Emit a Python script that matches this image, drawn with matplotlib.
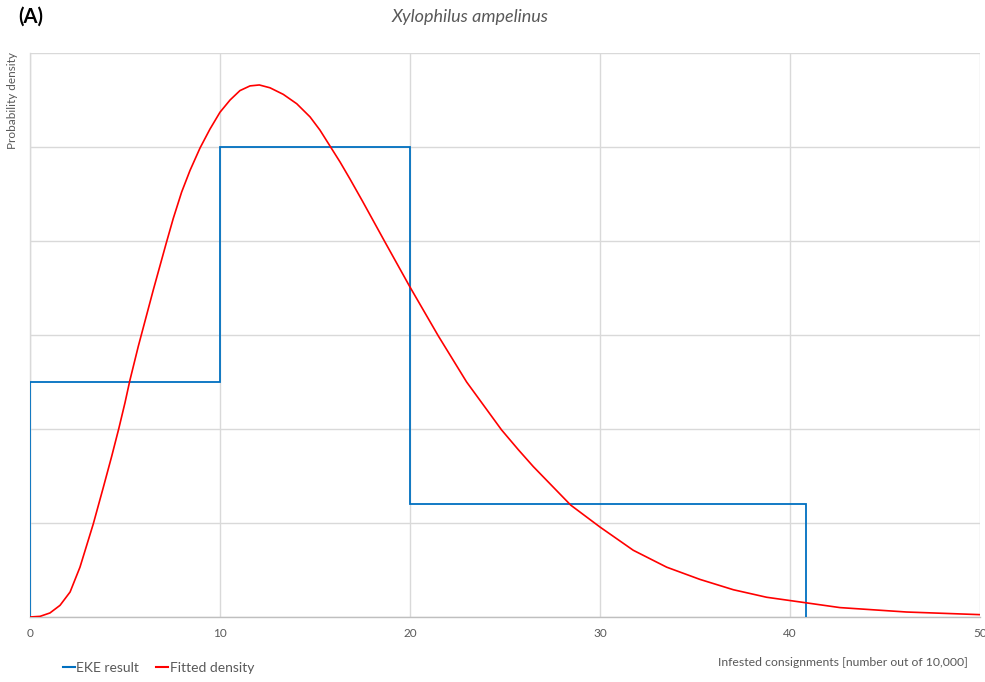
import numpy as np
import matplotlib
matplotlib.use("Agg")
import matplotlib.pyplot as plt

plt.rcParams['font.family'] = ['Lato', 'DejaVu Sans']

# EKE result (histogram-like step density)
eke_edges = [0, 10, 20, 40.83]
eke_density = [0.025, 0.05, 0.012]

# fitted density
fit_x = [0, 0.53, 1.05, 1.58, 2.11, 2.63, 3.33, 3.86, 4.3, 4.68, 5.0, 5.26, 5.7,
         6.49, 7.16, 7.54, 7.98, 8.42, 8.95, 9.47, 10.0, 10.53, 11.05, 11.58, 12.07,
         12.63, 13.33, 14.04, 14.74, 15.26, 15.79, 16.32, 16.84, 17.51, 18.68, 20.0,
         21.49, 22.98, 24.82, 25.7, 26.49, 28.46, 30.0, 31.75, 33.51, 35.26, 37.02,
         38.77, 40.88, 42.63, 46.14, 50.0]
fit_y = [0, 0.00007, 0.00043, 0.00124, 0.00266, 0.0053, 0.0099, 0.0138, 0.0171,
         0.0201, 0.0228, 0.0252, 0.0288, 0.0348, 0.0397, 0.0424, 0.0452, 0.0475,
         0.0499, 0.0519, 0.0537, 0.0550, 0.0560, 0.0565, 0.0566, 0.0563, 0.0556,
         0.0546, 0.0532, 0.0518, 0.0501, 0.0484, 0.0466, 0.0442, 0.0399, 0.0351,
         0.0299, 0.0250, 0.0199, 0.0178, 0.0160, 0.0119, 0.00957, 0.0071, 0.0053,
         0.0040, 0.0029, 0.0021, 0.0015, 0.0010, 0.00053, 0.00025]

x_ticks = [0, 10, 20, 30, 40, 50]

W, H = 985, 682
fig = plt.figure(figsize=(W / 100, H / 100), dpi=100)
ax = fig.add_axes([30 / W, (H - 617) / H, 950 / W, 564 / H])

grid_c = '#d9d9d9'
text_c = '#595959'

ax.stairs(eke_density, eke_edges, baseline=0, color='#0070C0', linewidth=1.3, zorder=3)
ax.plot(fit_x, fit_y, color='#FF0000', linewidth=1.2, zorder=4)

ax.set_xlim(0, 50)
ax.set_ylim(0, 0.06)
ax.set_xticks(x_ticks)
ax.set_yticks(np.arange(0, 0.061, 0.01))
ax.set_yticklabels([])
ax.tick_params(axis='both', length=0, colors=text_c, labelsize=8.5, pad=8)
ax.grid(True, color=grid_c, linewidth=1)
ax.set_axisbelow(True)
for s in ['top', 'right']:
    ax.spines[s].set_visible(False)
ax.spines['left'].set_color(grid_c)
ax.spines['bottom'].set_color('#bfbfbf')
ax.spines['left'].set_linewidth(1)
ax.spines['bottom'].set_linewidth(1)

fig.text(18 / W, 1 - 17 / H, '(A)', fontsize=14.5, fontweight='bold', va='center',
         ha='left', color='black')
fig.text(470 / W, 1 - 17 / H, 'Xylophilus ampelinus', fontsize=13, style='italic',
         color=text_c, ha='center', va='center')
fig.text(13 / W, 1 - 52 / H, 'Probability density', rotation=90, fontsize=8.5,
         color=text_c, ha='center', va='top')
fig.text(968 / W, 1 - 662 / H, 'Infested consignments [number out of 10,000]',
         fontsize=8.8, color=text_c, ha='right', va='center')

handles = [plt.Line2D([], [], color='#0070C0', linewidth=1.5),
           plt.Line2D([], [], color='#FF0000', linewidth=1.5)]
fig.legend(handles, ['EKE result', 'Fitted density'], loc='center left',
           bbox_to_anchor=(50 / W, 1 - 668 / H), ncol=2, frameon=False,
           fontsize=10, handlelength=0.9, handletextpad=0.1, columnspacing=1.2,
           labelcolor=text_c)

fig.savefig('out.png', dpi=100)
